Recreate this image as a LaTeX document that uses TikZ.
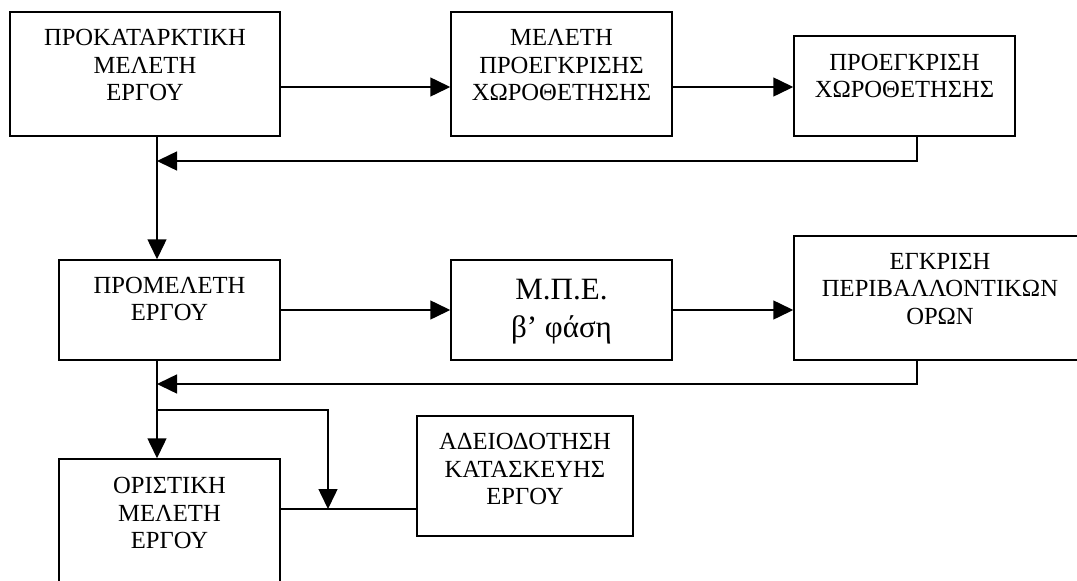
\documentclass[tikz,border=0pt]{standalone}
\usepackage{fontspec}
\setmainfont{Liberation Serif}
\usetikzlibrary{arrows.meta}
\begin{document}
\begin{tikzpicture}[x=1pt,y=-1pt,
  box/.style={draw,line width=1.5pt,rectangle,inner sep=0pt},
  lbl/.style={align=center,inner sep=0pt,font=\fontsize{24.6}{27.5}\selectfont},
  biglbl/.style={align=center,inner sep=0pt,font=\fontsize{31}{38}\selectfont},
  arr/.style={line width=1.5pt,-{Triangle[length=20pt,width=19pt]}},
  ln/.style={line width=1.5pt}]
\useasboundingbox (0,0) rectangle (1077,581);
\clip (0,0) rectangle (1077,581);
% boxes
\node[box,minimum width=270pt,minimum height=124pt] (b1) at (145,74) {};
\node[box,minimum width=221pt,minimum height=124pt] (b2) at (561.5,74) {};
\node[box,minimum width=221pt,minimum height=100pt] (b3) at (904.5,86) {};
\node[box,minimum width=221pt,minimum height=100pt] (b4) at (169.5,310) {};
\node[box,minimum width=221pt,minimum height=100pt] (b5) at (561.5,310) {};
\node[box,minimum width=292pt,minimum height=124pt] (b6) at (940,298) {};
\node[box,minimum width=221pt,minimum height=142pt] (b7) at (169.5,530) {};
\node[box,minimum width=216pt,minimum height=120pt] (b8) at (525,476) {};
% texts
\node[lbl] (t1) at (145,65) {ΠΡΟΚΑΤΑΡΚΤΙΚΗ\\ΜΕΛΕΤΗ\\ΕΡΓΟΥ};
\node[lbl] (t2) at (561.5,65) {ΜΕΛΕΤΗ\\ΠΡΟΕΓΚΡΙΣΗΣ\\ΧΩΡΟΘΕΤΗΣΗΣ};
\node[lbl] (t3) at (904.5,76) {ΠΡΟΕΓΚΡΙΣΗ\\ΧΩΡΟΘΕΤΗΣΗΣ};
\node[lbl] (t4) at (169.5,299) {ΠΡΟΜΕΛΕΤΗ\\ΕΡΓΟΥ};
\node[biglbl] (t5) at (561.5,312) {Μ.Π.Ε.\\β’ φάση};
\node[lbl] (t6) at (940,289) {ΕΓΚΡΙΣΗ\\ΠΕΡΙΒΑΛΛΟΝΤΙΚΩΝ\\ΟΡΩΝ};
\node[lbl] (t7) at (169.5,513) {ΟΡΙΣΤΙΚΗ\\ΜΕΛΕΤΗ\\ΕΡΓΟΥ};
\node[lbl] (t8) at (525,469) {ΑΔΕΙΟΔΟΤΗΣΗ\\ΚΑΤΑΣΚΕΥΗΣ\\ΕΡΓΟΥ};
% junction coordinates
\coordinate (v1) at (157,161);
\coordinate (v2) at (157,384);
\coordinate (v3) at (157,410);
\coordinate (t) at (328,509);
% connectors
\draw[arr] ([yshift=-13pt]b1.east) -- ([yshift=-13pt]b2.west);
\draw[arr] ([yshift=-13pt]b2.east) -- ([yshift=-13pt]b2.east -| b3.west);
\draw[arr] ([xshift=12.5pt]b3.south) |- (v1);
\draw[arr] (b1.south -| v1) -- (b4.north -| v1);
\draw[arr] (b4.east) -- (b5.west);
\draw[arr] (b5.east) -- (b5.east -| b6.west);
\draw[arr] ([xshift=-23pt]b6.south) |- (v2);
\draw[arr] (b4.south -| v1) -- (b7.north -| v1);
\draw[arr] (v3) -| (t);
\draw[ln] (b7.east |- t) -- (b8.west |- t);
\end{tikzpicture}
\end{document}
